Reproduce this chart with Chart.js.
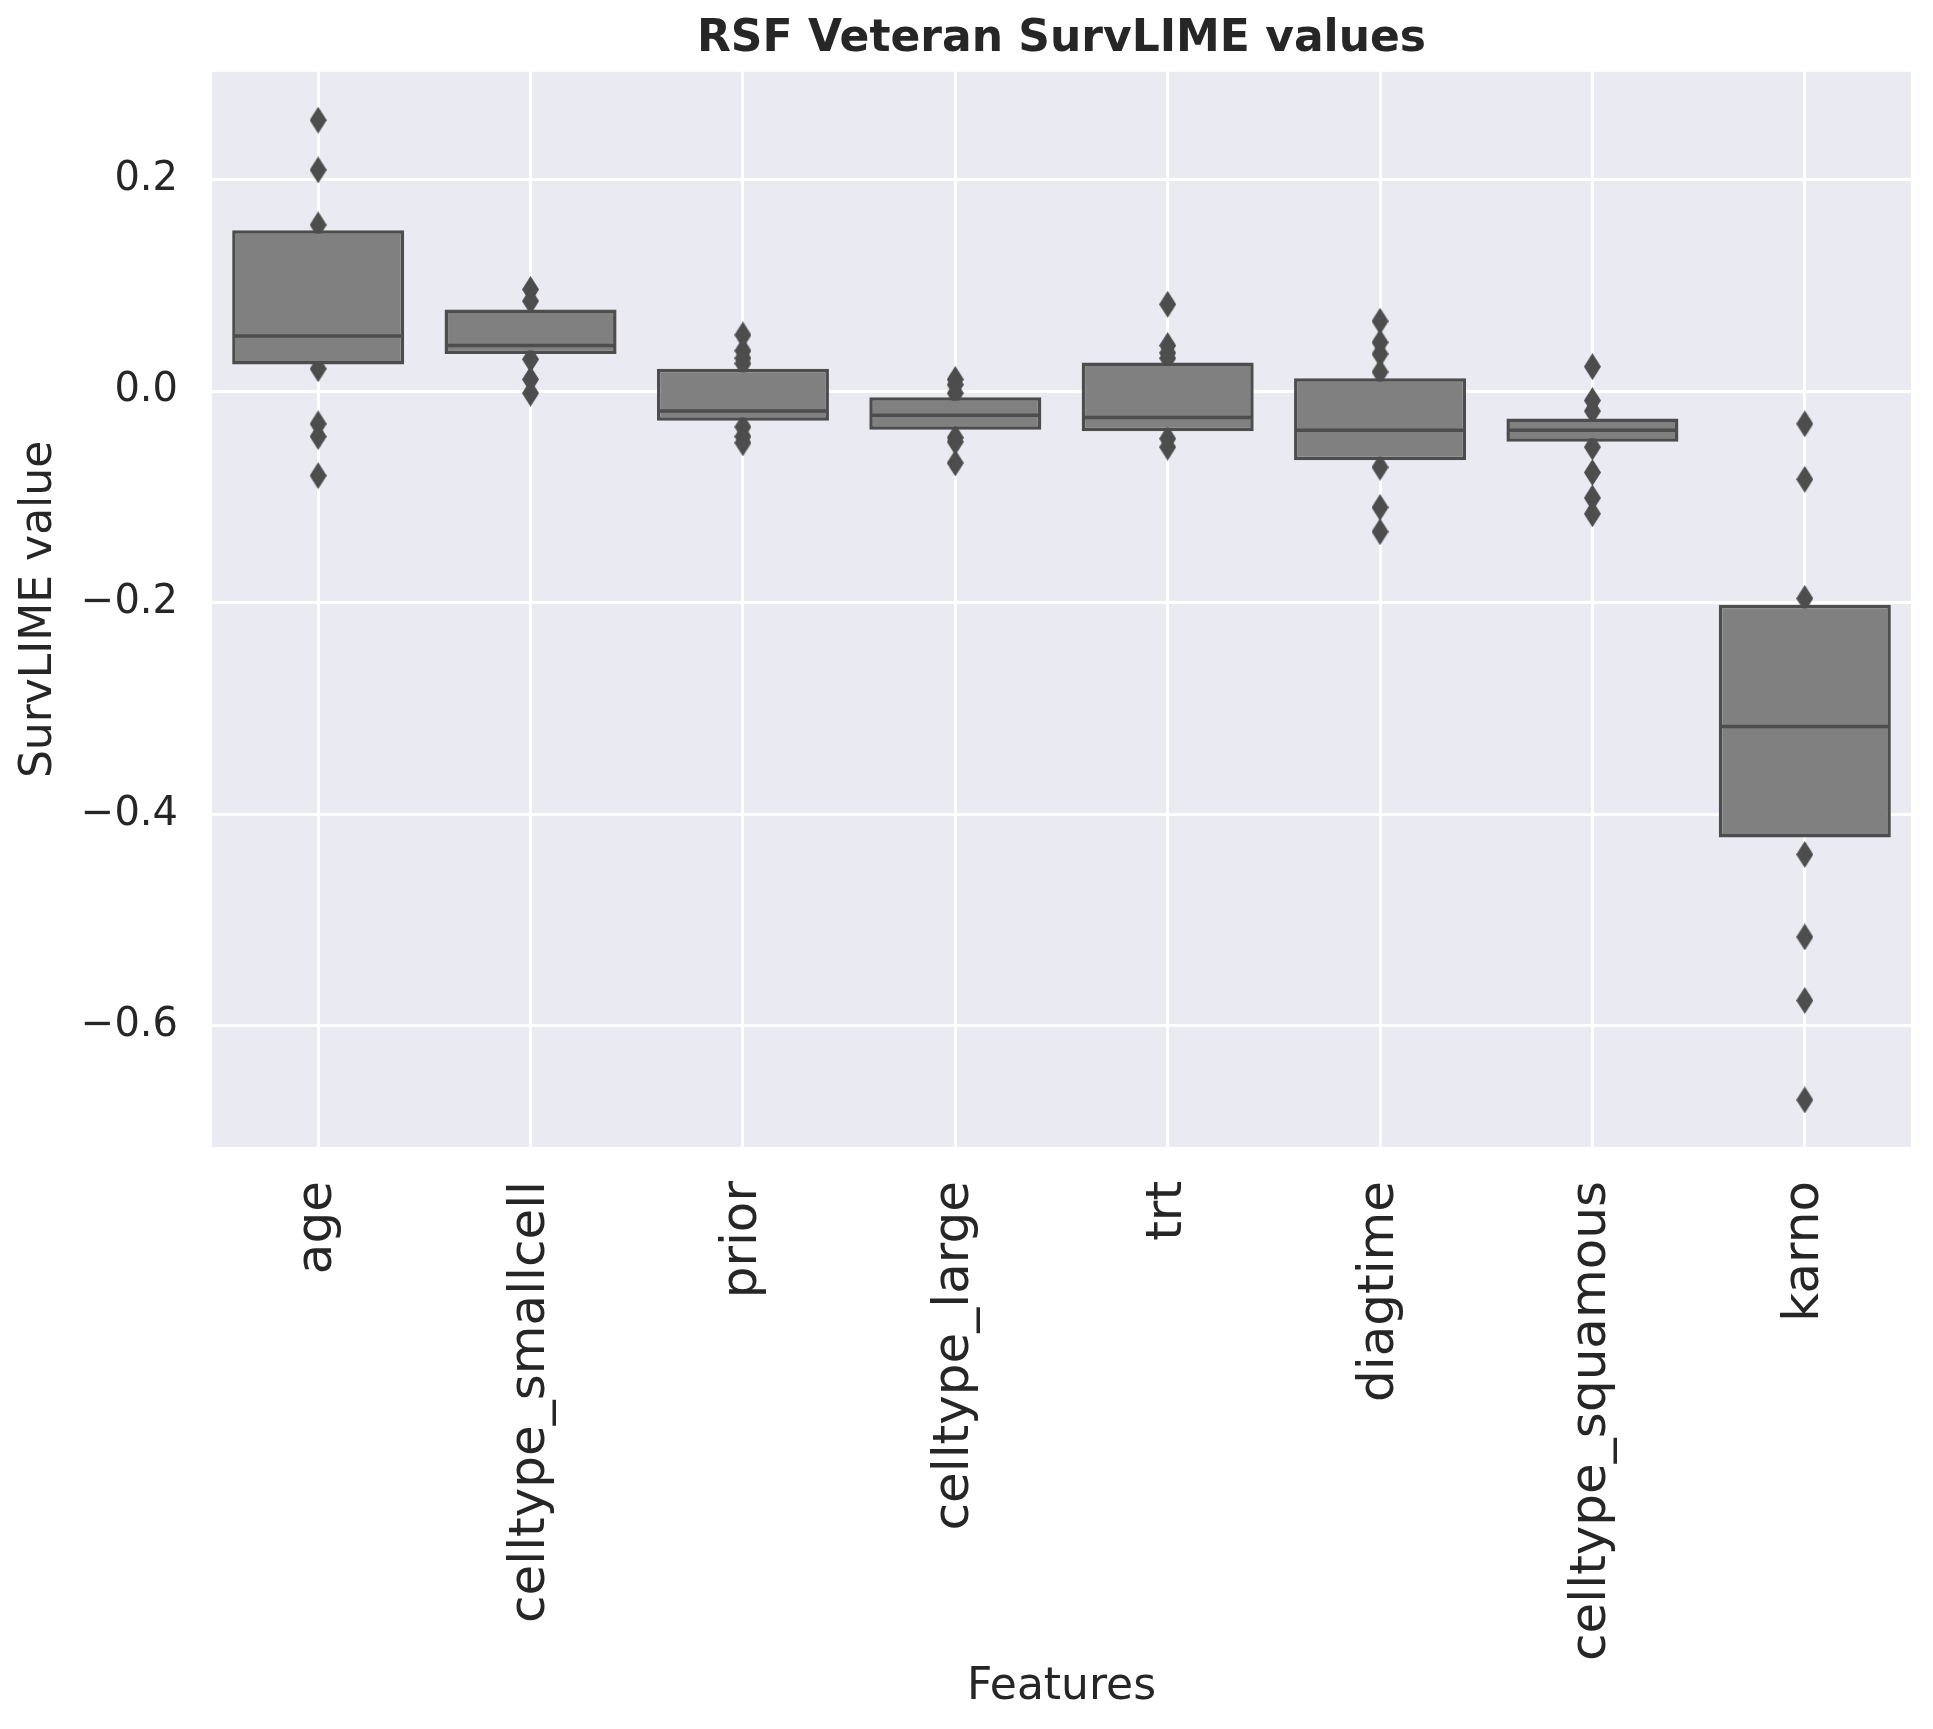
<!DOCTYPE html>
<html>
<head>
<meta charset="utf-8">
<script src="https://cdn.jsdelivr.net/npm/chart.js@4/dist/chart.umd.min.js"></script>
<style>
  html, body { margin: 0; padding: 0; background: #ffffff; }
  canvas { display: block; }
</style>
</head>
<body>
<canvas id="myChart" width="1933" height="1729"></canvas>
<script>
var categories = ['age', 'celltype_smallcell', 'prior', 'celltype_large', 'trt', 'diagtime', 'celltype_squamous', 'karno'];
var boxLow  = [0.025, 0.035, -0.028, -0.0365, -0.038, -0.0655, -0.048, -0.422];
var boxHigh = [0.152, 0.077, 0.021, -0.006, 0.027, 0.012, -0.026, -0.202];
var medians = [0.052, 0.043, -0.019, -0.023, -0.025, -0.037, -0.037, -0.317];
var outliers = [
    [0.256, 0.209, 0.157, 0.021, -0.031, -0.043, -0.080],
    [0.096, 0.085, 0.030, 0.011, -0.002],
    [0.053, 0.038, 0.031, 0.026, -0.034, -0.043, -0.049],
    [0.011, 0.006, -0.002, -0.044, -0.048, -0.068],
    [0.082, 0.043, 0.036, 0.031, -0.045, -0.053],
    [0.066, 0.046, 0.035, 0.018, -0.072, -0.110, -0.133],
    [0.023, -0.009, -0.019, -0.053, -0.077, -0.101, -0.116],
    [-0.031, -0.0835, -0.196, -0.438, -0.516, -0.576, -0.670]
];
var yTicks = [-0.6, -0.4, -0.2, 0.0, 0.2];

var textColor = '#262626';
var darkGray = '#4d4d4d';
var font = 'DejaVu Sans';

// thin diamond like matplotlib's 'd' marker
function makeDiamond(w, h, color) {
    var c = document.createElement('canvas');
    c.width = w;
    c.height = h;
    var g = c.getContext('2d');
    g.fillStyle = color;
    g.beginPath();
    g.moveTo(w / 2, 0);
    g.lineTo(w, h / 2);
    g.lineTo(w / 2, h);
    g.lineTo(0, h / 2);
    g.closePath();
    g.fill();
    return c;
}

var boxData = categories.map(function(c, i){ return [boxLow[i], boxHigh[i]]; });
var medianData = categories.map(function(c, i){ return {x: c, y: medians[i]}; });
var outlierData = [];
categories.forEach(function(c, i){
    outliers[i].forEach(function(v){ outlierData.push({x: c, y: v}); });
});

var bgPlugin = {
    id: 'plotBg',
    beforeDraw: function(chart){
        var a = chart.chartArea;
        var ctx = chart.ctx;
        ctx.save();
        ctx.fillStyle = '#ffffff';
        ctx.fillRect(0, 0, chart.width, chart.height);
        ctx.fillStyle = '#eaeaf2';
        ctx.fillRect(a.left, a.top, a.right - a.left, a.bottom - a.top);
        ctx.restore();
    }
};

var ctx = document.getElementById('myChart').getContext('2d');
var myChart = new Chart(ctx, {
    type: 'bar',
    data: {
        labels: categories,
        datasets: [{
            label: 'box',
            data: boxData,
            backgroundColor: '#808080',
            borderColor: darkGray,
            borderWidth: 3.5,
            borderSkipped: false,
            barPercentage: 0.81,
            categoryPercentage: 1.0,
            order: 1
        }, {
            type: 'line',
            label: 'median',
            data: medianData,
            showLine: false,
            pointStyle: 'line',
            pointRadius: 85,
            pointBorderWidth: 3.5,
            pointBorderColor: darkGray,
            order: 0
        }, {
            type: 'line',
            label: 'outliers',
            data: outlierData,
            showLine: false,
            pointStyle: makeDiamond(17, 27, darkGray),
            pointRadius: 10,
            order: 2
        }]
    },
    options: {
        responsive: false,
        animation: false,
        devicePixelRatio: 1,
        events: [],
        layout: { autoPadding: false, padding: { left: 0, right: 22, top: 0, bottom: 0 } },
        plugins: {
            legend: { display: false },
            tooltip: { enabled: false },
            title: {
                display: true,
                fullSize: false,
                text: 'RSF Veteran SurvLIME values',
                color: textColor,
                font: { family: font, size: 44, weight: 'bold' },
                padding: { top: 13, bottom: 6 }
            }
        },
        scales: {
            x: {
                type: 'category',
                offset: true,
                grid: { color: '#ffffff', lineWidth: 3, drawTicks: false, offset: false },
                border: { display: false },
                ticks: {
                    color: textColor,
                    font: { family: font, size: 50 },
                    minRotation: 90,
                    maxRotation: 90,
                    autoSkip: false,
                    padding: 34
                },
                title: {
                    display: true,
                    text: 'Features',
                    color: textColor,
                    font: { family: font, size: 44 },
                    padding: { top: 0, bottom: 15 }
                },
                afterFit: function(s){ s.height = 582; s.paddingLeft = 0; s.paddingRight = 0; }
            },
            y: {
                min: -0.7145,
                max: 0.3017,
                grid: { color: '#ffffff', lineWidth: 3, drawTicks: false },
                border: { display: false },
                afterBuildTicks: function(s){
                    s.ticks = yTicks.map(function(v){ return {value: v}; });
                },
                ticks: {
                    color: textColor,
                    font: { family: font, size: 40 },
                    padding: 34,
                    callback: function(v){
                        return (v < -1e-9 ? '\u2212' : '') + Math.abs(v).toFixed(1);
                    }
                },
                title: {
                    display: true,
                    text: 'SurvLIME value',
                    color: textColor,
                    font: { family: font, size: 44 },
                    padding: { top: 13, bottom: 0 }
                },
                afterFit: function(s){ s.width = 212; s.paddingTop = 0; s.paddingBottom = 0; }
            }
        }
    },
    plugins: [bgPlugin]
});
</script>
</body>
</html>
